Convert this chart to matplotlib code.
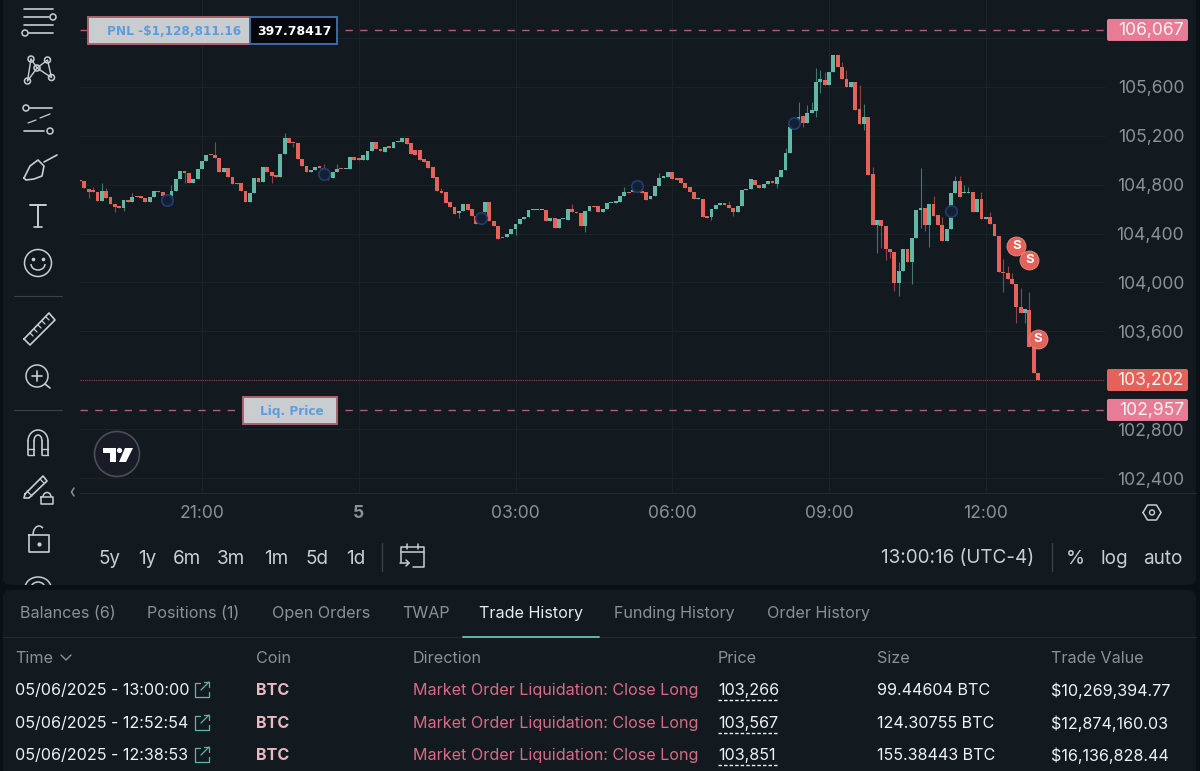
import matplotlib
matplotlib.use("Agg")
import matplotlib.pyplot as plt
from matplotlib.patches import Rectangle, Circle, FancyBboxPatch, Polygon, Arc

plt.rcParams['font.family'] = ['Inter', 'DejaVu Sans']

# 5 minute candles
opens = [104839,104831,104765,104749,104738,104667,104752,104703,104643,104629,
         104610,104675,104662,104708,104708,104694,104656,104697,104752,104738,
         104708,104708,104749,104844,104915,104899,104812,104847,104926,104997,
         105046,105044,105022,104902,104934,104861,104812,104812,104752,104662,
         104735,104853,104825,104943,104907,104880,104866,105052,105185,105144,
         105144,105008,104956,104907,104921,104943,104940,104880,104853,104907,
         104929,104929,104929,105024,105008,105003,105003,105079,105150,105093,
         105071,105106,105098,105150,105150,105180,105139,105084,105084,105008,
         104997,104942,104860,104746,104743,104658,104620,104566,104585,104639,
         104598,104544,104478,104579,104661,104503,104462,104367,104369,104397,
         104435,104478,104517,104533,104593,104593,104593,104593,104500,104530,
         104443,104519,104511,104598,104577,104566,104462,104585,104626,104626,
         104574,104598,104648,104653,104661,104710,104738,104743,104762,104751,
         104740,104680,104707,104792,104858,104860,104904,104852,104858,104817,
         104778,104738,104680,104686,104544,104538,104598,104634,104648,104634,
         104607,104579,104626,104757,104763,104839,104798,104771,104806,104828,
         104806,104861,104921,105063,105270,105308,105363,105308,105385,105407,
         105644,105658,105617,105726,105865,105767,105669,105603,105639,105418,
         105298,105352,104888,104471,104511,104462,104271,104249,103993,104094,
         104271,104170,104361,104593,104612,104470,104642,104552,104470,104342,
         104437,104729,104833,104729,104729,104737,104579,104683,104519,104533,
         104478,104380,104088,104074,104028,103987,103802,103753,103774,103474,
         103256]
closes = [104831,104771,104743,104743,104667,104752,104694,104643,104621,104613,
          104675,104662,104703,104697,104692,104656,104697,104749,104738,104708,
          104648,104752,104844,104915,104894,104812,104847,104926,104997,105046,
          105044,105016,104902,104934,104861,104803,104806,104752,104662,104735,
          104853,104825,104948,104902,104874,104866,105052,105185,105139,105139,
          105008,104956,104907,104921,104943,104940,104880,104853,104907,104926,
          104926,104932,105024,105003,105006,105044,105079,105150,105090,105079,
          105112,105104,105153,105161,105180,105134,105049,105044,105003,104989,
          104934,104852,104746,104735,104653,104620,104560,104585,104639,104593,
          104544,104478,104497,104661,104503,104462,104356,104364,104397,104437,
          104478,104522,104538,104593,104593,104593,104593,104500,104530,104443,
          104517,104519,104598,104577,104566,104462,104585,104626,104620,104574,
          104598,104648,104653,104661,104710,104743,104729,104751,104751,104735,
          104675,104707,104792,104858,104860,104904,104844,104838,104811,104770,
          104738,104680,104680,104538,104525,104598,104634,104653,104634,104607,
          104574,104626,104757,104766,104845,104798,104771,104806,104828,104812,
          104867,104921,105063,105270,105330,105352,105308,105390,105412,105644,
          105663,105617,105726,105865,105761,105663,105598,105639,105412,105298,
          105358,104880,104471,104512,104462,104271,104249,103993,104094,104271,
          104170,104361,104593,104612,104470,104642,104546,104470,104342,104437,
          104729,104833,104696,104729,104737,104579,104683,104519,104533,104478,
          104380,104088,104074,104028,103987,103802,103753,103780,103474,103256,
          103202]
# wicks that stick out of the body, by candle number
high_wicks = {3:104784,5:104812,6:104775,12:104735,21:104798,31:105153,47:105226,
              56:104967,59:104967,83:104770,113:104640,125:104778,133:104893,142:104702,
              149:104666,162:105098,165:105480,167:105453,168:105475,169:105753,
              170:105739,171:105726,175:105808,176:105739,179:105617,180:105461,
              182:104948,188:104170,193:104934,196:104707,198:104538,201:104871,
              202:104871,203:104797,204:104778,207:104743,209:104579,212:104192,
              213:104134,214:104074,216:103952,218:103919}
low_wicks = {2:104689,8:104580,10:104588,24:104812,44:104817,49:105112,57:104839,
             87:104525,100:104390,116:104415,145:104511,150:104544,160:104771,
             166:105276,169:105352,170:105549,180:105248,183:104239,184:104280,
             185:104184,186:104197,187:103933,188:103892,191:103987,193:104443,
             194:104424,195:104287,212:103924,215:103665,217:103665}

price_ticks = [102400,102800,103200,103600,104000,104400,104800,105200,105600,106000]
hidden_ticks = [103200,106000]  # sit under the price tags
time_ticks = [28,64,100,136,172,208]
time_labels = ['21:00','5','03:00','06:00','09:00','12:00']

entry_price = 106067
last_price = 103202
liq_price = 102957
pnl_text = 'PNL -$1,128,811.16'
size_text = '397.78417'

sell_i = [215,218,220]
sell_p = [104299,104184,103538]
hour_i = [20,56,92,128,164,200]
hour_p = [104675,104888,104530,104790,105305,104585]

ranges = ['5y','1y','6m','3m','1m','5d','1d']
range_x = [109,147,187,231,276,317,356]
tabs = ['Balances (6)','Positions (1)','Open Orders','TWAP','Trade History','Funding History','Order History']
tabs_x = [20,147,272,402,479,614,767]
headers = ['Coin','Direction','Price','Size','Trade Value']
headers_x = [256,413,718,877,1051]
times = ['05/06/2025 - 13:00:00','05/06/2025 - 12:52:54','05/06/2025 - 12:38:53']
fill_prices = ['103,266','103,567','103,851']
sizes = ['99.44604 BTC','124.30755 BTC','155.38443 BTC']
values = ['$10,269,394.77','$12,874,160.03','$16,136,828.44']

BG = '#12191f'
GREEN = '#62b8a4'
RED = '#e5625a'
PINK = '#e87b95'
DASH = '#b0606e'
GRID = '#1b2329'
TXT = '#8b9196'
ICON = '#c9ced1'

fig = plt.figure(figsize=(12, 7.71), dpi=100, facecolor='#0b1014')

# panels behind everything
bg = fig.add_axes([0, 0, 1, 1], zorder=0)
bg.set_xlim(0, 1200); bg.set_ylim(771, 0); bg.axis('off')
bg.add_patch(FancyBboxPatch((3, -20), 1193, 605, boxstyle='round,pad=0,rounding_size=8', fc=BG, ec='none'))
bg.add_patch(FancyBboxPatch((3, 590), 1193, 200, boxstyle='round,pad=0,rounding_size=8', fc=BG, ec='none'))

# price chart
L, R, B = 80, 1105, 493
ymax = 102400 + 478 * 8.184
ymin = 102400 - 15 * 8.184
ax = fig.add_axes([L/1200, 1 - B/771, (R-L)/1200, B/771], zorder=1)
ax.set_facecolor('none')
ax.set_xlim(0, (R-L)/4.355)
ax.set_ylim(ymin, ymax)
ax.set_axisbelow(True)
ax.grid(True, color=GRID, lw=0.8)
for s in ax.spines.values():
    s.set_visible(False)
ax.yaxis.tick_right()
ax.set_yticks(price_ticks, ['' if p in hidden_ticks else f'{p:,}' for p in price_ticks])
ax.set_xticks(time_ticks, time_labels)
ax.tick_params(axis='both', length=0, labelsize=12.6, labelcolor=TXT)
ax.tick_params(axis='y', pad=57)
ax.tick_params(axis='x', pad=8.5)
for t in ax.get_yticklabels():
    t.set_ha('right')
ax.get_xticklabels()[1].set_fontweight('bold')

for i, (o, c) in enumerate(zip(opens, closes)):
    col = GREEN if c >= o else RED
    top, bot = max(o, c), min(o, c)
    hi = high_wicks.get(i, top)
    lo = low_wicks.get(i, bot)
    ax.vlines(i, lo, hi, color=col, lw=0.8, alpha=0.6, zorder=3)
    ax.bar(i, max(top - bot, 10), bottom=bot, width=0.88, color=col, lw=0, zorder=3)

ax.axhline(entry_price, color=DASH, lw=1.0, ls=(0, (5.3, 5.3)), zorder=2)
ax.axhline(liq_price, color=DASH, lw=1.0, ls=(0, (5.3, 5.3)), zorder=2)
ax.axhline(last_price, color='#7f4641', lw=0.8, ls=(0, (1, 1)), zorder=2)

ax.scatter(hour_i, hour_p, s=68, facecolor='#13202f', edgecolor='#213c74', lw=1.2, zorder=4)
ax.scatter(sell_i, sell_p, s=187, facecolor=RED, edgecolor='#ea8a82', lw=0.6, zorder=5)
for i, p in zip(sell_i, sell_p):
    ax.text(i, p, 'S', color='white', fontsize=9.5, fontweight='bold', ha='center', va='center', zorder=6)

# everything else sits on a pixel overlay
ov = fig.add_axes([0, 0, 1, 1], zorder=2)
ov.set_xlim(0, 1200); ov.set_ylim(771, 0); ov.axis('off'); ov.patch.set_alpha(0)


def py(p):
    return B * (ymax - p) / (ymax - ymin)


def T(x, y, s, color=TXT, size=11.6, ha='left', **kw):
    ov.text(x, y + 1.5, s, color=color, fontsize=size, ha=ha, va='center', **kw)


def line(xs, ys, lw=1.2, color=ICON):
    ov.plot(xs, ys, color=color, lw=lw, solid_capstyle='round', solid_joinstyle='round')


def ring(x, y, r, lw=1.1, color=ICON, fc='none'):
    ov.add_patch(Circle((x, y), r, fc=fc, ec=color, lw=lw))


line([80, 1196], [493, 493], lw=0.8, color='#232b31')

# order labels
def box(x0, x1, yc, fc, ec, h=27):
    ov.add_patch(Rectangle((x0, yc - h/2), x1 - x0, h, fc=fc, ec=ec, lw=1.4))

yc_e = py(entry_price) + 1
yc_l = py(liq_price) + 1
box(88, 250, yc_e, '#c9cdd0', DASH)
box(250, 337, yc_e, '#05070c', '#3f6aa5')
T(241, yc_e - 1, pnl_text, color='#5d9cdf', size=8.7, ha='right', family='DejaVu Sans', fontweight='bold')
T(294, yc_e - 1, size_text, color='white', size=9, ha='center', family='DejaVu Sans', fontweight='bold')
box(243, 337, yc_l, '#c9cdd0', DASH)
T(292, yc_l - 1, 'Liq. Price', color='#5d9cdf', size=8.7, ha='center', family='DejaVu Sans', fontweight='bold')

# price tags on the axis
for p, col in [(entry_price, PINK), (last_price, RED), (liq_price, PINK)]:
    ov.add_patch(FancyBboxPatch((1107, py(p) - 11), 81, 22, boxstyle='round,pad=0,rounding_size=2', fc=col, ec='none'))
    T(1184, py(p) - 1, f'{p:,}', color='#f3f3f3', size=12.6, ha='right')

# tradingview badge
ring(117, 454, 22.5, lw=1.2, color='#4a4e55', fc='#191c26')
ov.add_patch(Polygon([[103, 448], [116, 448], [116, 462], [110, 462], [110, 453], [103, 453]], fc='white', ec='none'))
ov.add_patch(Circle((119.5, 450.5), 2.6, fc='white', ec='none'))
ov.add_patch(Polygon([[125, 448], [133, 448], [126, 462], [119, 462]], fc='white', ec='none'))

# toolbar icons
line([24, 53], [8.5, 8.5]); line([24, 49], [17, 17]); ring(53, 17, 3)
line([24, 53], [25, 25]); ring(25, 33, 3); line([29, 53], [33, 33])
for x, y in [(31, 59), (47.5, 60), (37, 68), (27.5, 81), (51.5, 77.5)]:
    ring(x, y, 3)
line([31, 37, 47.5, 51.5, 37], [59, 68, 60, 77.5, 68], lw=1); line([31, 27.5, 37], [59, 81, 68], lw=1)
ring(26, 108, 3); line([30, 52], [108, 108]); line([24, 44], [131, 131]); ring(50, 131, 3)
line([28, 36], [123, 120], lw=0.9); line([40, 50], [118, 114], lw=0.9)
line([24, 30, 38, 44, 42, 34, 26, 24], [178, 166, 160, 166, 176, 179, 180, 178]); line([44, 57], [162, 155])
line([30, 46], [205, 205], lw=1.4); line([38, 38], [205, 227], lw=1.4); line([34, 42], [227, 227], lw=1.2)
ring(38, 263, 13.5); ov.plot([33, 43], [259, 259], 'o', ms=1.6, color=ICON)
ov.add_patch(Arc((38, 264), 14, 12, theta1=0, theta2=180, ec=ICON, lw=1.1))
line([14, 62], [296, 296], lw=0.8, color='#3a4147')
line([24, 49, 55, 30, 24], [339, 313, 320, 345, 339])
for k in range(5):
    line([30 + k*4, 33 + k*4], [333 - k*4, 336 - k*4], lw=0.9)
ring(37, 376, 11); line([45, 50], [384, 388]); line([32, 42], [376, 376]); line([37, 37], [371, 381])
line([14, 62], [410, 410], lw=0.8, color='#3a4147')
line([28, 28], [441, 455]); line([48, 48], [441, 455]); line([34, 34], [441, 455]); line([42, 42], [441, 455])
ov.add_patch(Arc((38, 441), 20, 22, theta1=180, theta2=360, ec=ICON, lw=1.1))
ov.add_patch(Arc((38, 441), 8, 12, theta1=180, theta2=360, ec=ICON, lw=1.1))
line([28, 34], [449, 449], lw=1); line([42, 48], [449, 449], lw=1); line([28, 34], [455, 455], lw=1); line([42, 48], [455, 455], lw=1)
line([25, 43, 47, 29, 24, 25], [494, 476, 481, 498, 498, 494]); line([27, 32], [491, 496], lw=0.9); line([40, 44], [479, 483], lw=0.9)
line([41, 53, 53, 41, 41], [497, 497, 504, 504, 497], lw=1.1)
ov.add_patch(Arc((47, 497), 8, 9, theta1=180, theta2=360, ec=ICON, lw=1.1))
line([29, 49, 49, 29, 29], [535, 535, 552, 552, 535]); ov.add_patch(Arc((39, 535), 12, 18, theta1=180, theta2=300, ec=ICON, lw=1.1))
ov.plot([39], [544], 'o', ms=2, color=ICON)
ov.add_patch(Arc((38, 588), 26, 22, theta1=180, theta2=360, ec=ICON, lw=1.1))
ov.add_patch(Arc((38, 588), 14, 12, theta1=180, theta2=360, ec=ICON, lw=1.1))
ov.add_patch(Rectangle((3, 585), 1193, 5, fc='#0b1014', ec='none', zorder=3))
line([74, 71.5, 74], [488, 492, 496], lw=1.1, color=TXT)

# settings hexagon
line([1143, 1147.5, 1156.5, 1161, 1156.5, 1147.5, 1143], [512.5, 505, 505, 512.5, 520, 520, 512.5], lw=1.1)
ring(1152, 512.5, 2.5, lw=1)

# range row
for s, x in zip(ranges, range_x):
    T(x, 557, s, color=ICON, size=13.6, ha='center')
line([382, 382], [543, 571], lw=1, color='#3a4147')
line([401, 401, 424, 424, 413], [562, 547, 547, 567, 567], lw=1.1); line([401, 424], [552, 552], lw=1.1)
line([407, 407], [544, 549], lw=1.1); line([418, 418], [544, 549], lw=1.1)
line([400, 409], [563, 563], lw=1.1); line([406, 409, 406], [560, 563, 566], lw=1.1)
T(881, 557, '13:00:16 (UTC-4)', color=ICON, size=13.6)
line([1052, 1052], [543, 571], lw=1, color='#3a4147')
T(1075, 557, '%', color=ICON, size=14, ha='center')
T(1114, 557, 'log', color=ICON, size=13.6, ha='center')
T(1163, 557, 'auto', color=ICON, size=13.6, ha='center')

# table panel
line([3, 1196], [637, 637], lw=0.8, color='#232b31')
for s, x in zip(tabs, tabs_x):
    T(x, 612, s, color='#e8ecee' if s == 'Trade History' else TXT)
line([463, 599], [637, 637], lw=1.4, color=GREEN)
T(15, 657, 'Time')
line([61, 66, 71], [655, 660, 655], lw=1, color=TXT)
for s, x in zip(headers, headers_x):
    T(x, 657, s)
for k, yy in enumerate([689, 722, 754]):
    T(15, yy, times[k], color='#f0f2f3')
    xi = 195
    line([xi + 5, xi, xi, xi + 14, xi + 14], [yy - 6, yy - 6, yy + 8, yy + 8, yy + 3], lw=0.9, color=GREEN)
    line([xi + 6, xi + 14], [yy + 1, yy - 7], lw=0.9, color=GREEN)
    line([xi + 9, xi + 14, xi + 14], [yy - 7, yy - 7, yy - 2], lw=0.9, color=GREEN)
    T(256, yy, 'BTC', color='#e9b9c2', fontweight='bold')
    T(413, yy, 'Market Order Liquidation: Close Long', color='#dc6a82')
    T(718, yy, fill_prices[k], color='#f0f2f3')
    line([718, 779], [yy + 11, yy + 11], lw=1, color='#f0f2f3')
    ov.lines[-1].set_linestyle((0, (2.5, 1.5)))
    T(877, yy, sizes[k], color='#f0f2f3')
    T(1051, yy, values[k], color='#f0f2f3')

ov.set_xlim(0, 1200); ov.set_ylim(771, 0)
fig.savefig('out.png', dpi=100, facecolor=fig.get_facecolor())
